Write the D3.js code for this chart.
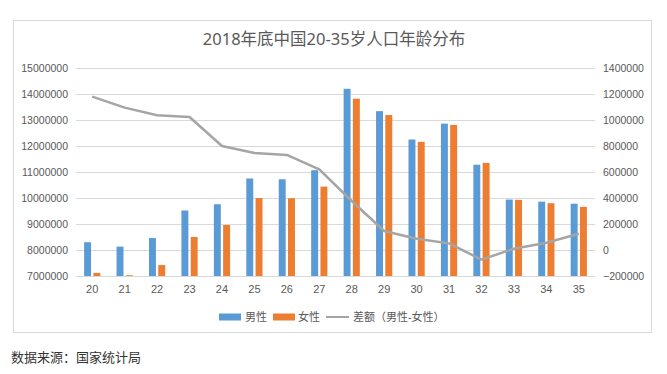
<!DOCTYPE html>
<html>
<head>
<meta charset="utf-8">
<script src="https://cdn.jsdelivr.net/npm/d3@7"></script>
<style>
  body { margin: 0; background: #fff; }
  svg { display: block; font-family: "Noto Sans", "Noto Sans CJK SC", sans-serif; }
</style>
</head>
<body>
<svg id="chart" width="667" height="374"></svg>
<script>
// ages 20-35
const ages = ["20","21","22","23","24","25","26","27","28","29","30","31","32","33","34","35"];
// 男性
const male = [8300000, 8130000, 8460000, 9520000, 9760000, 10750000, 10720000, 11070000,
              14200000, 13340000, 12250000, 12860000, 11280000, 9940000, 9860000, 9780000];
// 女性
const female = [7120000, 7030000, 7420000, 8500000, 8960000, 10000000, 9990000, 10440000,
                13820000, 13190000, 12160000, 12810000, 11350000, 9930000, 9800000, 9660000];
// 差额（男性-女性）
const diff = [1180000, 1095000, 1036000, 1023000, 800000, 746000, 731000, 620000,
              377000, 146000, 87000, 51000, -74000, 10000, 56000, 125000];

const leftTicks = [7000000, 8000000, 9000000, 10000000, 11000000, 12000000, 13000000, 14000000, 15000000];
const rightTicks = [-200000, 0, 200000, 400000, 600000, 800000, 1000000, 1200000, 1400000];

const svg = d3.select("#chart");

const PLOT = { left: 76, right: 595, top: 68, bottom: 276 };
const BLUE = "#5B9BD5", ORANGE = "#ED7D31", GREY = "#A5A5A5", TXT = "#595959";

// outer frame
svg.append("rect")
  .attr("x", 13.5).attr("y", 20.5)
  .attr("width", 638).attr("height", 312)
  .attr("fill", "#fff")
  .attr("stroke", "#d9d9d9");

svg.append("text")
  .attr("x", 334).attr("y", 45)
  .attr("text-anchor", "middle")
  .style("font-size", "16.5px")
  .style("fill", TXT)
  .text("2018年底中国20-35岁人口年龄分布");

const x0 = d3.scaleBand()
  .domain(ages)
  .range([PLOT.left, PLOT.right])
  .paddingInner(0.5)
  .paddingOuter(0.25);

const x1 = d3.scaleBand()
  .domain(["male", "female"])
  .range([0, x0.bandwidth()])
  .paddingInner(0.25);

const yL = d3.scaleLinear().domain([7000000, 15000000]).range([PLOT.bottom, PLOT.top]);
const yR = d3.scaleLinear().domain([-200000, 1400000]).range([PLOT.bottom, PLOT.top]);

// gridlines + left axis
const leftAxis = d3.axisLeft(yL)
  .tickValues(leftTicks)
  .tickSize(-(PLOT.right - PLOT.left))
  .tickPadding(8)
  .tickFormat(d3.format("d"));

const gl = svg.append("g")
  .attr("transform", "translate(" + PLOT.left + ",0)")
  .call(leftAxis);
gl.select(".domain").remove();
gl.selectAll(".tick line").attr("stroke", "#d9d9d9");
gl.selectAll(".tick text")
  .style("font-size", "10.5px")
  .style("fill", TXT)
  .attr("x", -8);

// right axis
const rightAxis = d3.axisRight(yR)
  .tickValues(rightTicks)
  .tickSize(0)
  .tickPadding(8)
  .tickFormat(d3.format("d"));

const gr = svg.append("g")
  .attr("transform", "translate(" + PLOT.right + ",0)")
  .call(rightAxis);
gr.select(".domain").remove();
gr.selectAll(".tick text")
  .style("font-size", "10.5px")
  .style("fill", TXT);

// x axis labels
const gx = svg.append("g")
  .attr("transform", "translate(0," + PLOT.bottom + ")")
  .call(d3.axisBottom(x0).tickSize(0).tickPadding(9));
gx.select(".domain").attr("stroke", "#d9d9d9");
gx.selectAll(".tick text")
  .style("font-size", "11px")
  .style("fill", TXT);

// bars
const groups = svg.append("g")
  .selectAll("g")
  .data(ages)
  .enter()
  .append("g")
  .attr("transform", d => "translate(" + x0(d) + ",0)");

groups.append("rect")
  .attr("x", x1("male"))
  .attr("width", x1.bandwidth())
  .attr("y", (d, i) => yL(male[i]))
  .attr("height", (d, i) => PLOT.bottom - yL(male[i]))
  .attr("fill", BLUE);

groups.append("rect")
  .attr("x", x1("female"))
  .attr("width", x1.bandwidth())
  .attr("y", (d, i) => yL(female[i]))
  .attr("height", (d, i) => PLOT.bottom - yL(female[i]))
  .attr("fill", ORANGE);

// difference line
const line = d3.line()
  .x((d, i) => x0(ages[i]) + x0.bandwidth() / 2)
  .y(d => yR(d));

svg.append("path")
  .attr("fill", "none")
  .attr("stroke", GREY)
  .attr("stroke-width", 2.5)
  .attr("stroke-linejoin", "round")
  .attr("d", line(diff));

// legend
const legend = svg.append("g").attr("transform", "translate(0,317)");
legend.append("rect").attr("x", 219).attr("y", -3.5).attr("width", 22).attr("height", 7).attr("fill", BLUE);
legend.append("text").attr("x", 245).attr("y", 4).style("font-size", "11px").style("fill", TXT).text("男性");
legend.append("rect").attr("x", 273).attr("y", -3.5).attr("width", 22).attr("height", 7).attr("fill", ORANGE);
legend.append("text").attr("x", 298).attr("y", 4).style("font-size", "11px").style("fill", TXT).text("女性");
legend.append("line").attr("x1", 326).attr("x2", 349).attr("y1", 0).attr("y2", 0)
  .attr("stroke", GREY).attr("stroke-width", 2);
legend.append("text").attr("x", 353).attr("y", 4).style("font-size", "11px").style("fill", TXT).text("差额（男性-女性）");

// source
svg.append("text")
  .attr("x", 11).attr("y", 362)
  .style("font-size", "13px")
  .style("fill", "#333")
  .text("数据来源：国家统计局");
</script>
</body>
</html>
